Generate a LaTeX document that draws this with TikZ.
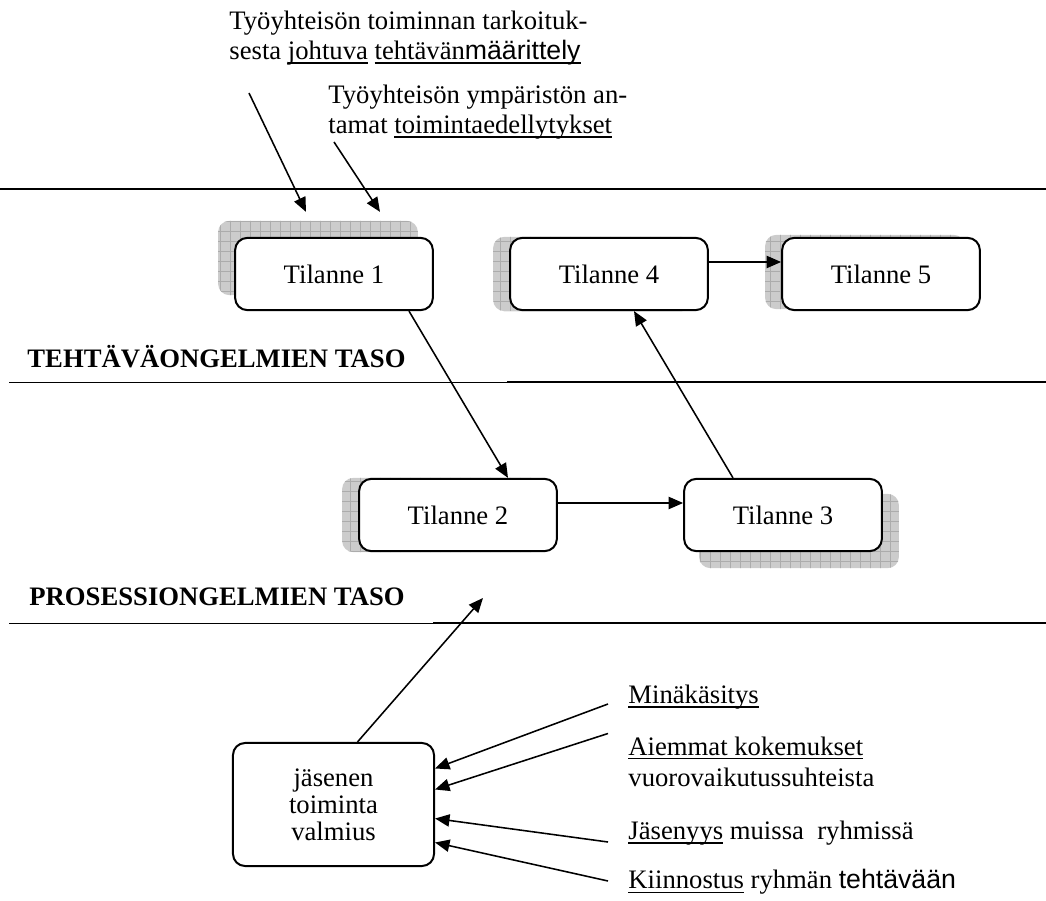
\documentclass[tikz,border=0pt]{standalone}
\usepackage{fontspec}
\setmainfont{Liberation Serif}
\newfontfamily\arialf{Liberation Sans}
\usetikzlibrary{arrows.meta,patterns.meta,backgrounds}

\newcommand\alle[1]{\setbox0\hbox{#1}\rlap{\rule[-1.9pt]{\wd0}{0.65pt}}\box0\relax}

\tikzset{
  tilanne/.style={draw, line width=0.9pt, rounded corners=5.5pt, fill=white,
    minimum width=89pt, minimum height=32.5pt, inner sep=0pt,
    font=\fontsize{12}{14}\selectfont},
  varjo/.style={rounded corners=5pt, preaction={fill=gray!40},
    pattern={Hatch[distance=4.5pt,angle=0,line width=0.3pt]}, pattern color=gray!65},
  nuoli/.style={line width=0.7pt, -{Triangle[length=6.5pt,width=5.5pt]}},
  teksti/.style={inner sep=0pt, anchor=west, align=left,
    font=\fontsize{12}{13.5}\selectfont},
  taso/.style={inner sep=0pt, anchor=west, font=\bfseries\fontsize{12}{14}\selectfont}
}

\begin{document}
\begin{tikzpicture}[x=0.45pt, y=-0.45pt]
  \useasboundingbox (0,0) rectangle (1046,901);

  \draw[line width=0.9pt] (0,189) -- (1046,189);
  \draw[line width=0.4pt] (9,382) -- (507,382);
  \draw[line width=1pt] (507,382) -- (1046,382);
  \draw[line width=0.4pt] (9,623) -- (433,623);
  \draw[line width=1pt] (433,623) -- (1046,623);
  \node[taso] (taso1) at (27,357) {TEHTÄVÄONGELMIEN TASO};
  \node[taso] (taso2) at (29,597) {PROSESSIONGELMIEN TASO};

  \node[teksti] (tarkoitus) at (229,38)
    {Työyhteisön toiminnan tarkoituk-\\sesta \alle{johtuva} \alle{tehtävän{\arialf määrittely}}};
  \node[teksti] (ymparisto) at (328,112)
    {Työyhteisön ympäristön an-\\tamat \alle{toimintaedellytykset}};

  \node[tilanne] (t1) at (334,274) {Tilanne 1};
  \node[tilanne] (t4) at (609,274) {Tilanne 4};
  \node[tilanne] (t5) at (881,274) {Tilanne 5};
  \node[tilanne] (t2) at (458,515) {Tilanne 2};
  \node[tilanne] (t3) at (783,515) {Tilanne 3};
  \node[tilanne, minimum width=90.5pt, minimum height=55.4pt, align=center,
    font=\fontsize{12}{12.2}\selectfont] (jv) at (333.5,804.5) {jäsenen\\toiminta\\valmius};

  \begin{scope}[on background layer]
    \path[varjo] ([shift={(-16,-16)}]t1.south west) rectangle ([shift={(-16,-16)}]t1.north east);
    \path[varjo] ([shift={(-16,0)}]t4.south west) rectangle ([shift={(-16,0)}]t4.north east);
    \path[varjo] ([shift={(-16,-2)}]t5.south west) rectangle ([shift={(-16,-2)}]t5.north east);
    \path[varjo] ([shift={(-16,0)}]t2.south west) rectangle ([shift={(-16,0)}]t2.north east);
    \path[varjo] ([shift={(16,16)}]t3.south west) rectangle ([shift={(16,16)}]t3.north east);
  \end{scope}

  \node[teksti] (m1) at (628,697) {\alle{Minäkäsitys}};
  \node[teksti, font=\fontsize{12}{14}\selectfont] (m2) at (628,761.5)
    {\alle{Aiemmat kokemukset}\\vuorovaikutussuhteista};
  \node[teksti] (m3) at (628,833) {\alle{Jäsenyys} muissa\ \ ryhmissä};
  \node[teksti] (m4) at (628,882) {\alle{Kiinnostus} ryhmän {\arialf tehtävään}};

  \coordinate (in1) at (249,93);
  \coordinate (in2) at (334,142);
  \coordinate (ylos) at (483,598);
  \draw[nuoli] (in1) -- ([shift={(-28,-25)}]t1.north);
  \draw[nuoli] (in2) -- ([shift={(46,-25)}]t1.north);
  \draw[nuoli] ([shift={(75,0)}]t1.south) -- ([shift={(50,0)}]t2.north);
  \draw[nuoli] ([shift={(0,-12)}]t2.east) -- ([shift={(0,-12)}]t3.west);
  \draw[nuoli] ([shift={(-50,0)}]t3.north) -- ([shift={(25,0)}]t4.south);
  \draw[nuoli] ([shift={(0,-12)}]t4.east) -- ([shift={(0,-12)}]t5.west);
  \draw[nuoli] ([shift={(24,0)}]jv.north) -- (ylos);
  \draw[nuoli] ([shift={(-20,7)}]m1.west) -- ([shift={(0,-36)}]jv.east);
  \draw[nuoli] ([shift={(-20,-28)}]m2.west) -- ([shift={(0,-15)}]jv.east);
  \draw[nuoli] ([shift={(-20,9)}]m3.west) -- ([shift={(0,14)}]jv.east);
  \draw[nuoli] ([shift={(-20,-1)}]m4.west) -- ([shift={(0,38)}]jv.east);
\end{tikzpicture}
\end{document}
